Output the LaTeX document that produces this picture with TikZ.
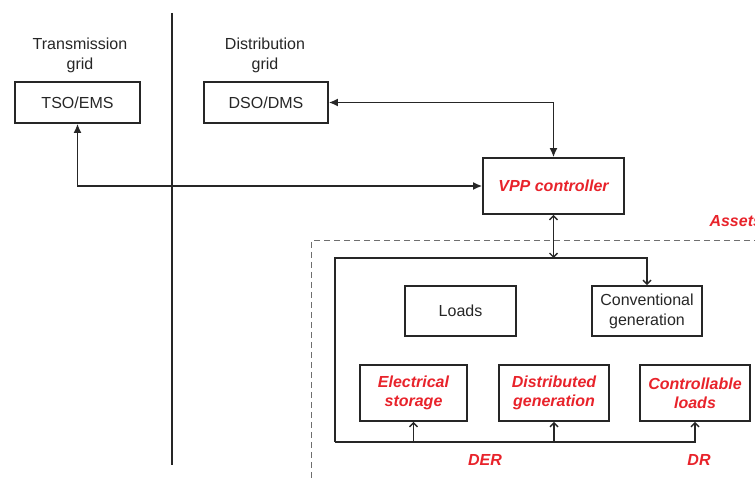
\documentclass[tikz,border=0pt]{standalone}
\usepackage{fontspec}
\setmainfont{Liberation Sans}
\usetikzlibrary{arrows.meta}
\definecolor{ink}{HTML}{262626}
\definecolor{vppred}{HTML}{E8232B}
\definecolor{dashgray}{HTML}{6E6E6E}
\begin{document}
\begin{tikzpicture}[x=1pt,y=-1pt,
  every node/.style={font=\fontsize{16}{20}\selectfont, text=ink},
  box/.style={draw=ink, line width=1.8pt, rectangle, align=center, inner sep=2pt},
  redtxt/.style={text=vppred, font=\fontsize{16}{19}\selectfont\bfseries\itshape},
  link/.style={draw=ink, line width=1.4pt},
  bigarr/.style={link, {Latex[length=9pt,width=8pt]}-{Latex[length=9pt,width=8pt]}},
  smallarr/.style={link, -{Straight Barb[length=4pt,width=8pt]}},
  dbarr/.style={link, {Straight Barb[length=4pt,width=8pt]}-{Straight Barb[length=4pt,width=8pt]}}]
\useasboundingbox (0,0) rectangle (755,481);

% grid boundary
\draw[ink, line width=2.8pt] (172,13) -- (172,465);

% grid labels
\node[align=center] (trans) at (80,55) {Transmission\\grid};
\node[align=center] (dist) at (265,55) {Distribution\\grid};

% operator boxes
\node[box, minimum width=125pt, minimum height=41pt] (tso) at (77.5,102.5) {TSO/EMS};
\node[box, minimum width=124pt, minimum height=41pt] (dso) at (266,102.5) {DSO/DMS};

% VPP controller
\node[box, redtxt, minimum width=141pt, minimum height=56pt] (vpp) at (553.5,186) {VPP controller};

% assets area
\draw[dashgray, line width=1pt, dash pattern=on 6pt off 4pt] (780,241) -- (311,241) -- (311,490);
\node[redtxt, anchor=base west] (assets) at (706,226) {Assets};

% asset boxes
\node[box, minimum width=111pt, minimum height=50pt] (loads) at (460.5,311) {Loads};
\node[box, minimum width=110pt, minimum height=50pt] (conv) at (647,311) {Conventional\\generation};
\node[box, redtxt, minimum width=107pt, minimum height=56pt] (es) at (413.5,393) {Electrical\\storage};
\node[box, redtxt, minimum width=110pt, minimum height=56pt] (dg) at (554,393) {Distributed\\generation};
\node[box, redtxt, minimum width=110pt, minimum height=56pt] (cl) at (695,393) {Controllable\\loads};

\node[redtxt] (der) at (485,460) {DER};
\node[redtxt] (dr) at (699,460) {DR};

% communication links
\draw[bigarr] (dso.east) -| (vpp.north);
\draw[bigarr] (tso.south) |- (vpp.west);

% internal bus
\coordinate (tl) at (335,258);
\coordinate (bl) at (335,442);
\draw[dbarr] (vpp.south) -- (vpp.south |- tl);
\draw[smallarr] (bl) -- (tl) -| (conv.north);
\draw[smallarr] (bl) -| (cl.south);
\draw[smallarr] (es.south |- bl) -- (es.south);
\draw[smallarr] (dg.south |- bl) -- (dg.south);
\end{tikzpicture}
\end{document}
